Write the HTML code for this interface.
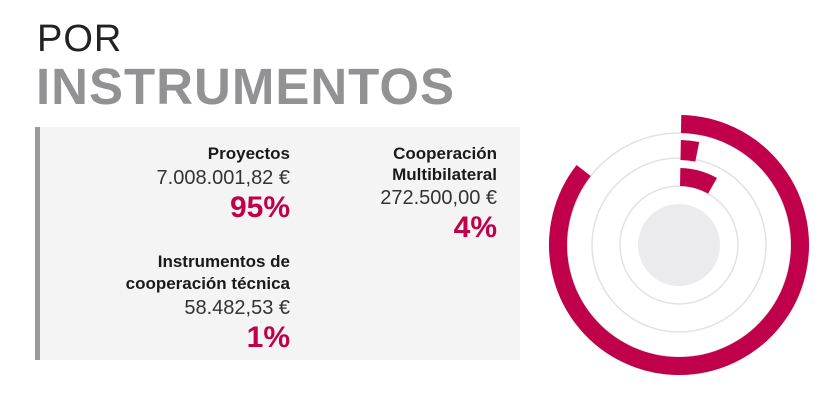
<!DOCTYPE html>
<html><head><meta charset="utf-8"><style>
body{margin:0;width:829px;height:403px;background:#fff;position:relative;overflow:hidden;font-family:"Liberation Sans",sans-serif}
.t{position:absolute;white-space:nowrap}
.r{text-align:right}
.lab{font-weight:bold;font-size:17px;color:#1a1a1a}
.val{font-size:20px;color:#333;font-weight:300}
.pct{font-weight:bold;font-size:30px;color:#c0004a}
</style></head><body>
<div class="t" style="left:37px;top:18px;font-size:38px;color:#222;letter-spacing:1px">POR</div>
<div class="t" style="left:36px;top:57px;font-size:51px;font-weight:bold;color:#929295;letter-spacing:1px">INSTRUMENTOS</div>
<div style="position:absolute;left:35px;top:127px;width:485px;height:233px;background:#f4f4f5;border-left:5px solid #9a9a9d;box-sizing:border-box"></div>
<div class="t r" style="right:539px;top:143px;line-height:22px">
<div class="lab">Proyectos</div><div class="val" style="line-height:27px">7.008.001,82 €</div><div class="pct" style="line-height:32px">95%</div></div>
<div class="t r" style="right:332px;top:143px;line-height:21px">
<div class="lab">Cooperación</div><div class="lab">Multibilateral</div><div class="val" style="line-height:27px">272.500,00 €</div><div class="pct" style="line-height:32px">4%</div></div>
<div class="t r" style="right:539px;top:251px;line-height:22px">
<div class="lab">Instrumentos de</div><div class="lab">cooperación técnica</div><div class="val" style="line-height:27px">58.482,53 €</div><div class="pct" style="line-height:32px">1%</div></div>
<svg id="chart" width="829" height="403" style="position:absolute;left:0;top:0"></svg>
<script>
const categories=["Proyectos","Instrumentos de cooperación técnica","Cooperación Multibilateral"];
const values=[95,1,4];
const ringRadii=[121,95,68];
const ns="http://www.w3.org/2000/svg";
const svg=document.getElementById("chart");
const cx=679,cy=245;
function angle(v){return 307*Math.pow(v/95,0.75);}
function pt(r,a){const t=(a-90)*Math.PI/180;return [cx+r*Math.cos(t),cy+r*Math.sin(t)];}
[112,87,59].forEach(r=>{const c=document.createElementNS(ns,"circle");


c.setAttribute("cx",cx);c.setAttribute("cy",cy);c.setAttribute("r",r);c.setAttribute("fill","none");c.setAttribute("stroke","#e2e2e4");c.setAttribute("stroke-width","1.5");svg.appendChild(c);});
const d=document.createElementNS(ns,"circle");


d.setAttribute("cx",cx);d.setAttribute("cy",cy);d.setAttribute("r",41);d.setAttribute("fill","#ebebed");svg.appendChild(d);
values.forEach((v,i)=>{const r=ringRadii[i],a=angle(v);const [x0,y0]=pt(r,1),[x1,y1]=pt(r,1+a);
const p=document.createElementNS(ns,"path");


p.setAttribute("d",`M${x0} ${y0} A${r} ${r} 0 ${a>180?1:0} 1 ${x1} ${y1}`);
p.setAttribute("fill","none");p.setAttribute("stroke","#c0004a");p.setAttribute("stroke-width",i==1?20:18);svg.appendChild(p);});
</script>
</body></html>
